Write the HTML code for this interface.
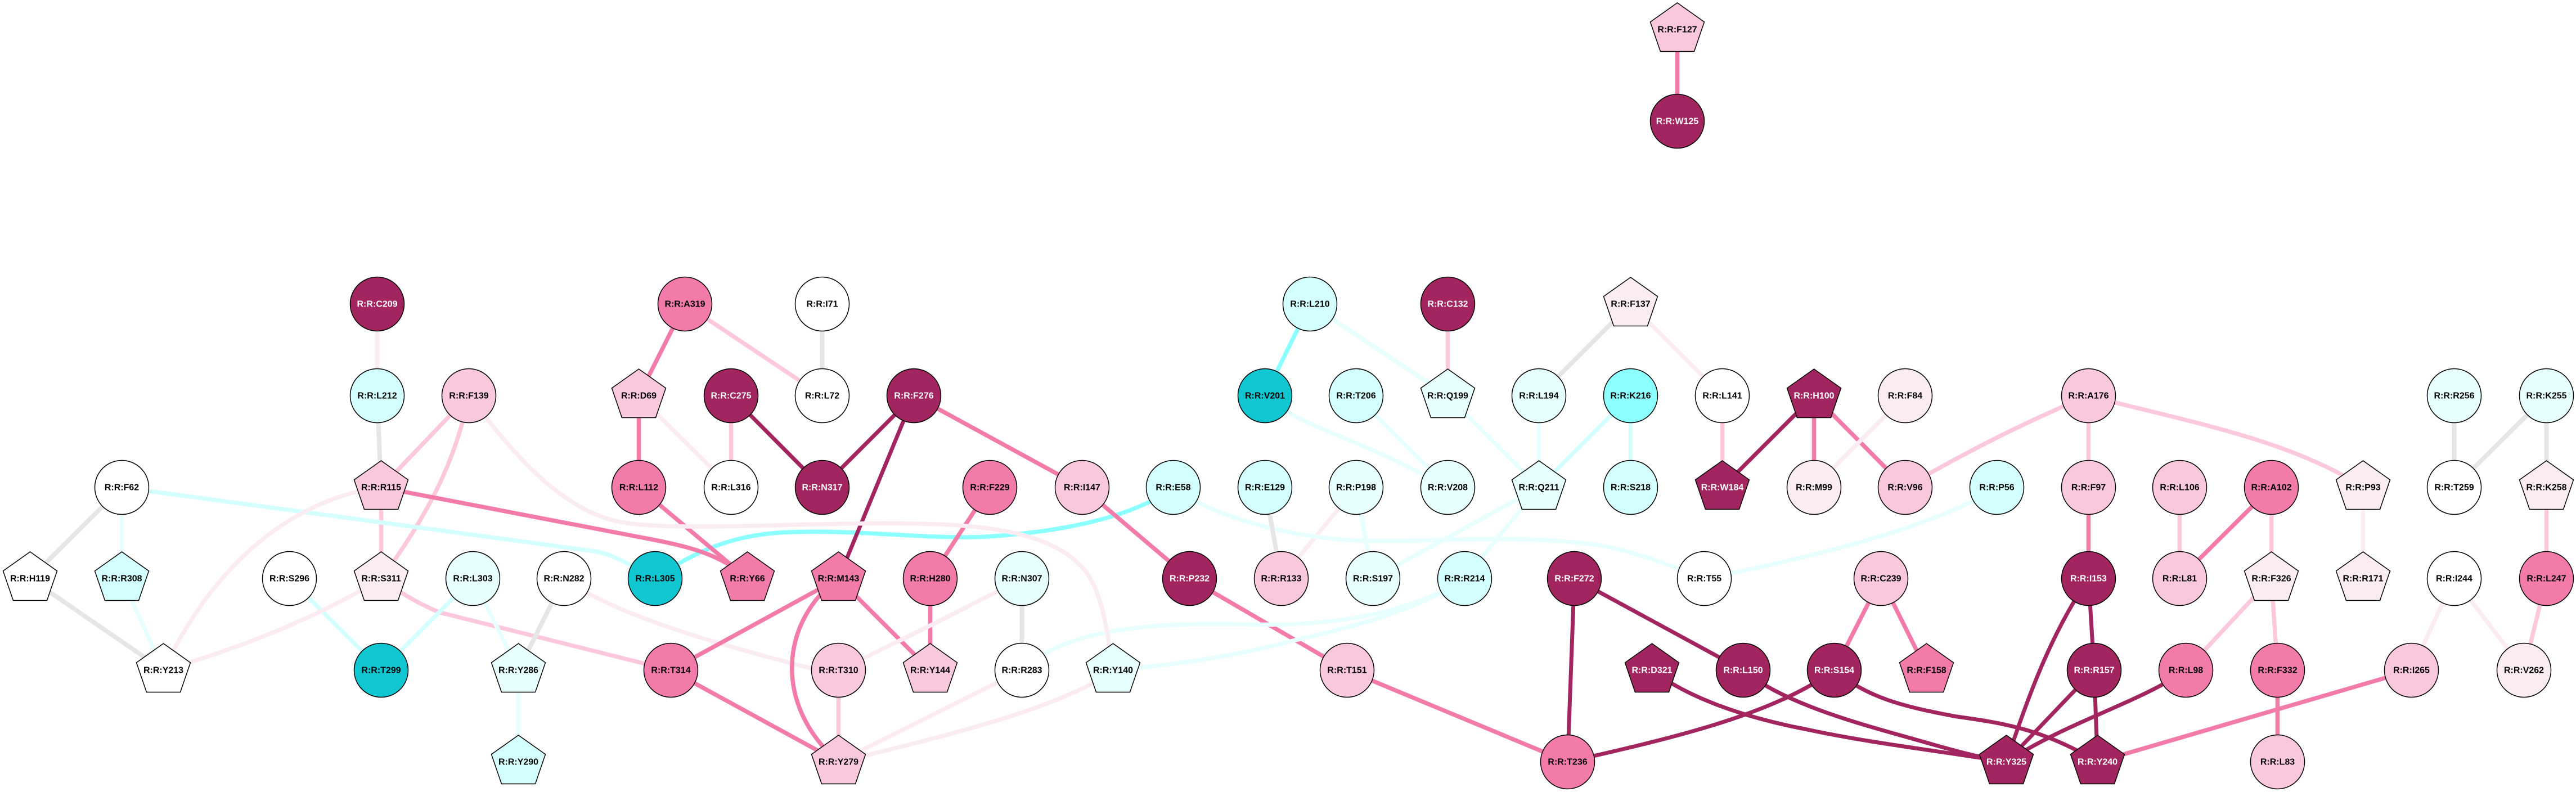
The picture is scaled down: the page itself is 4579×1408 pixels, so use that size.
<!DOCTYPE html>
<html><head><meta charset="utf-8"><style>
html,body{margin:0;padding:0;background:#fff}
svg{display:block}
.e path{fill:none;stroke-width:7.5}
.dk path{stroke:#a32560;stroke-width:7}.md path{stroke:#f27baa}.lt path{stroke:#fbc8dd}.vl path{stroke:#fbecf3}
.gr path{stroke:#e6e6e6;stroke-width:8}.c1 path{stroke:#d3ffff}.c2 path{stroke:#e8ffff}.c3 path{stroke:#8cffff}
.n circle,.n use{stroke:#000;stroke-width:1.5}
.n text{font:bold 16px "Liberation Sans",sans-serif;text-anchor:middle;fill:#000}
.D{fill:#a32560}.D text{fill:#fff}.M{fill:#f27baa}.L{fill:#f9c8dd}.V{fill:#fbecf3}.W{fill:#fff}
.C{fill:#d3ffff}.E{fill:#e8ffff}.K{fill:#8cffff}.T{fill:#0fc6d1}
</style></head><body>
<svg width="4579" height="1408" viewBox="0 0 4579 1408" xmlns="http://www.w3.org/2000/svg">
<defs><polygon id="p" points="0,-47.5 48,-13.5 30,39 -30,39 -48,-13.5"/></defs>
<g transform="translate(.5 .5)">
<g class="e vl">
<path d="M1002,1028C1090,1090 1250,1140 1490,1200"/>
<path d="M2410,866L2277,1028"/>
</g>
<g class="e lt">
<path d="M833,703L677,866"/>
<path d="M833,703C815,790 780,890 677,1028"/>
<path d="M677,866L677,1028"/>
<path d="M677,1028C720,1060 750,1075 780,1088L1192,1191"/>
<path d="M1217,540L1461,703"/>
<path d="M1299,703L1299,866"/>
<path d="M1490,1191L1490,1354"/>
<path d="M2573,540L2573,703"/>
<path d="M3061,703L3061,866"/>
<path d="M3712,703Q3550,770 3386,866"/>
<path d="M3712,703L3712,866"/>
<path d="M3712,703C3870,745 4070,780 4200,866"/>
<path d="M3874,866L3874,1028"/>
<path d="M4037,866L4037,1028"/>
<path d="M4526,866L4526,1028"/>
<path d="M4037,1028L3885,1191"/>
<path d="M4037,1028L4048,1191"/>
<path d="M4526,1028L4486,1191"/>
</g>
<g class="e c3">
<path d="M2085,866C2020,915 1900,945 1745,954C1640,958 1520,940 1393,946C1310,950 1240,975 1164,1028"/>
<path d="M2328,540L2248,703"/>
</g>
<g class="e dk">
<path d="M1299,703L1461,866"/>
<path d="M1624,703L1461,866"/>
<path d="M1624,703L1490,1028"/>
<path d="M3224,703L3061,866"/>
<path d="M2798,1028L2786,1354"/>
<path d="M2798,1028L3098,1191"/>
<path d="M3260,1191C3150,1270 2980,1310 2786,1354"/>
<path d="M2936,1191C3000,1240 3100,1275 3210,1296C3320,1320 3450,1335 3566,1354"/>
<path d="M3098,1191C3170,1250 3300,1285 3400,1313C3460,1330 3510,1345 3566,1354"/>
<path d="M3260,1191C3320,1240 3380,1255 3475,1273C3560,1285 3630,1295 3728,1354"/>
<path d="M3712,1028L3722,1191"/>
<path d="M3712,1028C3650,1120 3610,1220 3566,1354"/>
<path d="M3722,1191L3566,1354"/>
<path d="M3722,1191L3728,1354"/>
<path d="M3885,1191C3800,1250 3680,1280 3566,1354"/>
</g>
<g class="e md">
<path d="M2981,52L2981,215"/>
<path d="M677,866L1140,955C1230,972 1280,985 1328,1028"/>
<path d="M1217,540L1135,703"/>
<path d="M1135,703L1135,866"/>
<path d="M1624,703L1923,866"/>
<path d="M1135,866L1328,1028"/>
<path d="M1759,866L1653,1028"/>
<path d="M1923,866L2114,1028"/>
<path d="M1490,1028L1192,1191"/>
<path d="M1490,1028L1653,1191"/>
<path d="M1490,1028C1390,1100 1370,1250 1490,1354"/>
<path d="M1653,1028L1653,1191"/>
<path d="M1192,1191L1490,1354"/>
<path d="M2114,1028L2394,1191"/>
<path d="M2394,1191L2786,1354"/>
<path d="M3224,703L3224,866"/>
<path d="M3224,703L3386,866"/>
<path d="M3343,1028L3260,1191"/>
<path d="M3343,1028L3424,1191"/>
<path d="M3712,866L3712,1028"/>
<path d="M4037,866L3874,1028"/>
<path d="M4048,1191L4048,1354"/>
<path d="M4286,1191L3728,1354"/>
</g>
<g class="e c1">
<path d="M216,866L1060,980Q1090,985 1164,1028"/>
<path d="M514,1028L677,1191"/>
<path d="M840,1028L677,1191"/>
<path d="M2898,703L2735,866"/>
<path d="M2898,703L2898,866"/>
</g>
<g class="e c2">
<path d="M216,866L216,1028"/>
<path d="M216,1028L290,1191"/>
<path d="M840,1028L921,1191"/>
<path d="M921,1191L921,1354"/>
<path d="M2085,866C2150,915 2290,958 2430,961C2550,964 2700,947 2850,970C2920,985 2970,1005 3029,1028"/>
<path d="M2410,866L2440,1028"/>
<path d="M2328,540L2573,703"/>
<path d="M2410,703L2573,866"/>
<path d="M2573,703L2735,866"/>
<path d="M2735,703L2735,866"/>
<path d="M2735,866L2440,1028"/>
<path d="M2735,866L2603,1028"/>
<path d="M1816,1191C1880,1130 2000,1105 2200,1109C2350,1115 2500,1095 2603,1028"/>
<path d="M1978,1191C2100,1180 2200,1165 2300,1138C2400,1115 2520,1085 2603,1028"/>
<path d="M3549,866C3450,930 3250,985 3029,1028"/>
<path d="M2248,703C2310,760 2400,770 2573,866"/>
</g>
<g class="e gr">
<path d="M670,703L677,866"/>
<path d="M216,866L53,1028"/>
<path d="M53,1028L290,1191"/>
<path d="M1002,1028L921,1191"/>
<path d="M1461,540L1461,703"/>
<path d="M2248,866L2277,1028"/>
<path d="M2898,540L2735,703"/>
<path d="M1816,1028L1816,1191"/>
<path d="M4362,703L4362,866"/>
<path d="M4526,703L4362,866"/>
<path d="M4526,703L4526,866"/>
</g>
<g class="e vl">
<path d="M670,540L670,703"/>
<path d="M833,703C900,790 990,905 1100,927C1200,947 1450,925 1650,931C1800,935 1880,960 1925,1010C1955,1045 1965,1100 1978,1191"/>
<path d="M677,866C560,880 400,960 290,1191"/>
<path d="M677,1028Q516,1126 290,1191"/>
<path d="M1135,703L1299,866"/>
<path d="M2898,540L3061,703"/>
<path d="M3386,703L3224,866"/>
<path d="M1816,1028Q1660,1110 1490,1191"/>
<path d="M1816,1191L1490,1354"/>
<path d="M1978,1191C1900,1250 1720,1300 1490,1354"/>
<path d="M4200,866L4200,1028"/>
<path d="M4362,1028L4286,1191"/>
<path d="M4362,1028L4486,1191"/>
</g>
<g class="n">
<g class="L" transform="translate(2981 52)"><use href="#p"/><text y="5">R:R:F127</text></g>
<g class="D" transform="translate(2981 215)"><circle r="48"/><text y="5">R:R:W125</text></g>
<g class="D" transform="translate(670 540)"><circle r="48"/><text y="5">R:R:C209</text></g>
<g class="M" transform="translate(1217 540)"><circle r="48"/><text y="5">R:R:A319</text></g>
<g class="W" transform="translate(1461 540)"><circle r="48"/><text y="5">R:R:I71</text></g>
<g class="C" transform="translate(2328 540)"><circle r="48"/><text y="5">R:R:L210</text></g>
<g class="D" transform="translate(2573 540)"><circle r="48"/><text y="5">R:R:C132</text></g>
<g class="V" transform="translate(2898 540)"><use href="#p"/><text y="5">R:R:F137</text></g>
<g class="C" transform="translate(670 703)"><circle r="48"/><text y="5">R:R:L212</text></g>
<g class="L" transform="translate(833 703)"><circle r="48"/><text y="5">R:R:F139</text></g>
<g class="L" transform="translate(1135 703)"><use href="#p"/><text y="5">R:R:D69</text></g>
<g class="D" transform="translate(1299 703)"><circle r="48"/><text y="5">R:R:C275</text></g>
<g class="W" transform="translate(1461 703)"><circle r="48"/><text y="5">R:R:L72</text></g>
<g class="D" transform="translate(1624 703)"><circle r="48"/><text y="5">R:R:F276</text></g>
<g class="T" transform="translate(2248 703)"><circle r="48"/><text y="5">R:R:V201</text></g>
<g class="C" transform="translate(2410 703)"><circle r="48"/><text y="5">R:R:T206</text></g>
<g class="E" transform="translate(2573 703)"><use href="#p"/><text y="5">R:R:Q199</text></g>
<g class="E" transform="translate(2735 703)"><circle r="48"/><text y="5">R:R:L194</text></g>
<g class="K" transform="translate(2898 703)"><circle r="48"/><text y="5">R:R:K216</text></g>
<g class="W" transform="translate(3061 703)"><circle r="48"/><text y="5">R:R:L141</text></g>
<g class="D" transform="translate(3224 703)"><use href="#p"/><text y="5">R:R:H100</text></g>
<g class="V" transform="translate(3386 703)"><circle r="48"/><text y="5">R:R:F84</text></g>
<g class="L" transform="translate(3712 703)"><circle r="48"/><text y="5">R:R:A176</text></g>
<g class="E" transform="translate(4362 703)"><circle r="48"/><text y="5">R:R:R256</text></g>
<g class="E" transform="translate(4526 703)"><circle r="48"/><text y="5">R:R:K255</text></g>
<g class="W" transform="translate(216 866)"><circle r="48"/><text y="5">R:R:F62</text></g>
<g class="L" transform="translate(677 866)"><use href="#p"/><text y="5">R:R:R115</text></g>
<g class="M" transform="translate(1135 866)"><circle r="48"/><text y="5">R:R:L112</text></g>
<g class="W" transform="translate(1299 866)"><circle r="48"/><text y="5">R:R:L316</text></g>
<g class="D" transform="translate(1461 866)"><circle r="48"/><text y="5">R:R:N317</text></g>
<g class="M" transform="translate(1759 866)"><circle r="48"/><text y="5">R:R:F229</text></g>
<g class="L" transform="translate(1923 866)"><circle r="48"/><text y="5">R:R:I147</text></g>
<g class="C" transform="translate(2085 866)"><circle r="48"/><text y="5">R:R:E58</text></g>
<g class="C" transform="translate(2248 866)"><circle r="48"/><text y="5">R:R:E129</text></g>
<g class="E" transform="translate(2410 866)"><circle r="48"/><text y="5">R:R:P198</text></g>
<g class="E" transform="translate(2573 866)"><circle r="48"/><text y="5">R:R:V208</text></g>
<g class="E" transform="translate(2735 866)"><use href="#p"/><text y="5">R:R:Q211</text></g>
<g class="C" transform="translate(2898 866)"><circle r="48"/><text y="5">R:R:S218</text></g>
<g class="D" transform="translate(3061 866)"><use href="#p"/><text y="5">R:R:W184</text></g>
<g class="V" transform="translate(3224 866)"><circle r="48"/><text y="5">R:R:M99</text></g>
<g class="L" transform="translate(3386 866)"><circle r="48"/><text y="5">R:R:V96</text></g>
<g class="C" transform="translate(3549 866)"><circle r="48"/><text y="5">R:R:P56</text></g>
<g class="L" transform="translate(3712 866)"><circle r="48"/><text y="5">R:R:F97</text></g>
<g class="L" transform="translate(3874 866)"><circle r="48"/><text y="5">R:R:L106</text></g>
<g class="M" transform="translate(4037 866)"><circle r="48"/><text y="5">R:R:A102</text></g>
<g class="V" transform="translate(4200 866)"><use href="#p"/><text y="5">R:R:P93</text></g>
<g class="W" transform="translate(4362 866)"><circle r="48"/><text y="5">R:R:T259</text></g>
<g class="V" transform="translate(4526 866)"><use href="#p"/><text y="5">R:R:K258</text></g>
<g class="W" transform="translate(53 1028)"><use href="#p"/><text y="5">R:R:H119</text></g>
<g class="C" transform="translate(216 1028)"><use href="#p"/><text y="5">R:R:R308</text></g>
<g class="W" transform="translate(514 1028)"><circle r="48"/><text y="5">R:R:S296</text></g>
<g class="V" transform="translate(677 1028)"><use href="#p"/><text y="5">R:R:S311</text></g>
<g class="E" transform="translate(840 1028)"><circle r="48"/><text y="5">R:R:L303</text></g>
<g class="W" transform="translate(1002 1028)"><circle r="48"/><text y="5">R:R:N282</text></g>
<g class="T" transform="translate(1164 1028)"><circle r="48"/><text y="5">R:R:L305</text></g>
<g class="M" transform="translate(1328 1028)"><use href="#p"/><text y="5">R:R:Y66</text></g>
<g class="M" transform="translate(1490 1028)"><use href="#p"/><text y="5">R:R:M143</text></g>
<g class="M" transform="translate(1653 1028)"><circle r="48"/><text y="5">R:R:H280</text></g>
<g class="E" transform="translate(1816 1028)"><circle r="48"/><text y="5">R:R:N307</text></g>
<g class="D" transform="translate(2114 1028)"><circle r="48"/><text y="5">R:R:P232</text></g>
<g class="L" transform="translate(2277 1028)"><circle r="48"/><text y="5">R:R:R133</text></g>
<g class="E" transform="translate(2440 1028)"><circle r="48"/><text y="5">R:R:S197</text></g>
<g class="C" transform="translate(2603 1028)"><circle r="48"/><text y="5">R:R:R214</text></g>
<g class="D" transform="translate(2798 1028)"><circle r="48"/><text y="5">R:R:F272</text></g>
<g class="W" transform="translate(3029 1028)"><circle r="48"/><text y="5">R:R:T55</text></g>
<g class="L" transform="translate(3343 1028)"><circle r="48"/><text y="5">R:R:C239</text></g>
<g class="D" transform="translate(3712 1028)"><circle r="48"/><text y="5">R:R:I153</text></g>
<g class="L" transform="translate(3874 1028)"><circle r="48"/><text y="5">R:R:L81</text></g>
<g class="V" transform="translate(4037 1028)"><use href="#p"/><text y="5">R:R:F326</text></g>
<g class="V" transform="translate(4200 1028)"><use href="#p"/><text y="5">R:R:R171</text></g>
<g class="W" transform="translate(4362 1028)"><circle r="48"/><text y="5">R:R:I244</text></g>
<g class="M" transform="translate(4526 1028)"><circle r="48"/><text y="5">R:R:L247</text></g>
<g class="W" transform="translate(290 1191)"><use href="#p"/><text y="5">R:R:Y213</text></g>
<g class="T" transform="translate(677 1191)"><circle r="48"/><text y="5">R:R:T299</text></g>
<g class="E" transform="translate(921 1191)"><use href="#p"/><text y="5">R:R:Y286</text></g>
<g class="M" transform="translate(1192 1191)"><circle r="48"/><text y="5">R:R:T314</text></g>
<g class="L" transform="translate(1490 1191)"><circle r="48"/><text y="5">R:R:T310</text></g>
<g class="L" transform="translate(1653 1191)"><use href="#p"/><text y="5">R:R:Y144</text></g>
<g class="W" transform="translate(1816 1191)"><circle r="48"/><text y="5">R:R:R283</text></g>
<g class="E" transform="translate(1978 1191)"><use href="#p"/><text y="5">R:R:Y140</text></g>
<g class="L" transform="translate(2394 1191)"><circle r="48"/><text y="5">R:R:T151</text></g>
<g class="D" transform="translate(2936 1191)"><use href="#p"/><text y="5">R:R:D321</text></g>
<g class="D" transform="translate(3098 1191)"><circle r="48"/><text y="5">R:R:L150</text></g>
<g class="D" transform="translate(3260 1191)"><circle r="48"/><text y="5">R:R:S154</text></g>
<g class="M" transform="translate(3424 1191)"><use href="#p"/><text y="5">R:R:F158</text></g>
<g class="D" transform="translate(3722 1191)"><circle r="48"/><text y="5">R:R:R157</text></g>
<g class="M" transform="translate(3885 1191)"><circle r="48"/><text y="5">R:R:L98</text></g>
<g class="M" transform="translate(4048 1191)"><circle r="48"/><text y="5">R:R:F332</text></g>
<g class="L" transform="translate(4286 1191)"><circle r="48"/><text y="5">R:R:I265</text></g>
<g class="V" transform="translate(4486 1191)"><circle r="48"/><text y="5">R:R:V262</text></g>
<g class="C" transform="translate(921 1354)"><use href="#p"/><text y="5">R:R:Y290</text></g>
<g class="L" transform="translate(1490 1354)"><use href="#p"/><text y="5">R:R:Y279</text></g>
<g class="M" transform="translate(2786 1354)"><circle r="48"/><text y="5">R:R:T236</text></g>
<g class="D" transform="translate(3566 1354)"><use href="#p"/><text y="5">R:R:Y325</text></g>
<g class="D" transform="translate(3728 1354)"><use href="#p"/><text y="5">R:R:Y240</text></g>
<g class="L" transform="translate(4048 1354)"><circle r="48"/><text y="5">R:R:L83</text></g>
</g>
</g>
</svg>
</body></html>
